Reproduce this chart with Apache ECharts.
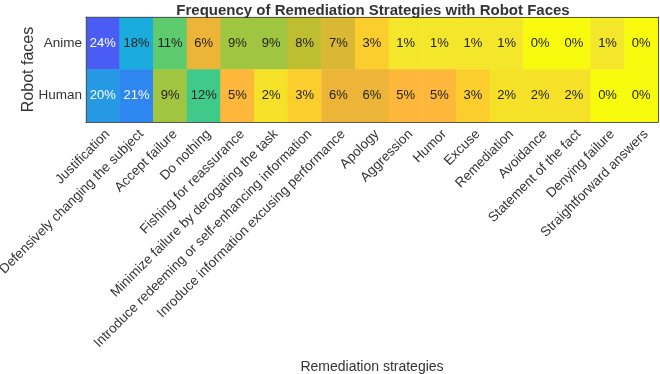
<!DOCTYPE html>
<html>
<head>
<meta charset="utf-8">
<script src="https://cdn.jsdelivr.net/npm/echarts@6/dist/echarts.min.js"></script>
<style>
  html, body { margin: 0; padding: 0; background: #fff; }
  #chart { width: 660px; height: 374px; }
</style>
</head>
<body>
<div id="chart"></div>
<script>
var strategies = [
  "Justification",
  "Defensively changing the subject",
  "Accept failure",
  "Do nothing",
  "Fishing for reassurance",
  "Minimize failure by derogating the task",
  "Introduce redeeming or self-enhancing information",
  "Inroduce information excusing performance",
  "Apology",
  "Aggression",
  "Humor",
  "Excuse",
  "Remediation",
  "Avoidance",
  "Statement of the fact",
  "Denying failure",
  "Straightforward answers"
];
var faces = ["Anime", "Human"];
var anime = [24, 18, 11, 6, 9, 9, 8, 7, 3, 1, 1, 1, 1, 0, 0, 1, 0];
var human = [20, 21, 9, 12, 5, 2, 3, 6, 6, 5, 5, 3, 2, 2, 2, 0, 0];

// reversed parula-like colour ramp, one stop per percent (0..24)
var ramp = [
  "#F9FB0E", "#F4E62A", "#F5E228", "#FBCD2D", "#FCC234",
  "#FDB73A", "#EDB537", "#D9B833", "#BFBD30", "#A0C540",
  "#7DC958", "#5DCB6E", "#40CA89", "#36C69A", "#2DC1AA",
  "#25BBBB", "#1FB5C9", "#1BB0D4", "#19ACDC", "#1FA2E0",
  "#2599E3", "#2E86F0", "#3778F2", "#406AF3", "#495CF3"
];

var font = "Liberation Sans, Arial, Helvetica, sans-serif";

var cells = [];
var rows = [anime, human];
for (var r = 0; r < rows.length; r++) {
  for (var i = 0; i < strategies.length; i++) {
    var v = rows[r][i];
    cells.push({
      value: [i, r, v],
      label: { color: v >= 19 ? "#ffffff" : "#222222" }
    });
  }
}

var chart = echarts.init(document.getElementById("chart"));
chart.setOption({
  animation: false,
  title: {
    text: "Frequency of Remediation Strategies with Robot Faces",
    left: 368,
    textAlign: "center",
    top: -2,
    textStyle: { fontFamily: font, fontSize: 15, fontWeight: "bold", color: "#333" }
  },
  grid: { left: 86, top: 17, width: 572, height: 105, containLabel: false, outerBoundsMode: "none" },
  visualMap: {
    show: false,
    type: "continuous",
    min: 0,
    max: 24,
    dimension: 2,
    inRange: { color: ramp }
  },
  xAxis: [{
    type: "category",
    data: strategies,
    z: 5,
    name: "Remediation strategies",
    nameLocation: "middle",
    nameGap: 238,
    nameMoveOverlap: false,
    nameTextStyle: { fontFamily: font, fontSize: 14, color: "#333" },
    axisLine: { show: true, lineStyle: { color: "#555", width: 1 } },
    axisTick: { show: false },
    splitLine: { show: false },
    axisLabel: {
      interval: 0,
      rotate: 45,
      margin: 15,
      padding: [0, -7, 0, 0],
      fontFamily: font,
      fontSize: 13.5,
      color: "#333"
    }
  }, {
    type: "category",
    data: strategies,
    position: "top",
    z: 5,
    axisLine: { show: true, lineStyle: { color: "#555", width: 1 } },
    axisTick: { show: false },
    axisLabel: { show: false }
  }],
  yAxis: [{
    type: "category",
    data: faces,
    inverse: true,
    z: 5,
    name: "Robot faces",
    nameLocation: "middle",
    nameGap: 49,
    nameMoveOverlap: false,
    nameRotate: 90,
    nameTextStyle: { fontFamily: font, fontSize: 16, color: "#333" },
    axisLine: { show: true, lineStyle: { color: "#555", width: 1 } },
    axisTick: { show: false },
    splitLine: { show: false },
    axisLabel: { margin: 4, fontFamily: font, fontSize: 13.5, color: "#333" }
  }, {
    type: "category",
    data: faces,
    inverse: true,
    position: "right",
    z: 5,
    axisLine: { show: true, lineStyle: { color: "#555", width: 1 } },
    axisTick: { show: false },
    axisLabel: { show: false }
  }],
  series: [{
    type: "heatmap",
    data: cells,
    label: {
      show: true,
      fontFamily: font,
      fontSize: 13,
      formatter: function (p) { return p.value[2] + "%"; }
    },
    itemStyle: { borderWidth: 0 },
    emphasis: { disabled: true }
  }]
});
</script>
</body>
</html>
